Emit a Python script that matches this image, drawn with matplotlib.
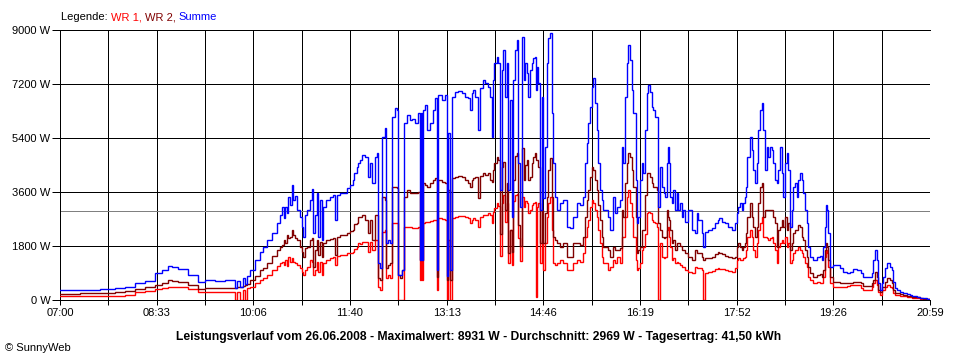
import matplotlib
matplotlib.use("Agg")
import matplotlib.pyplot as plt
import numpy as np
from matplotlib.offsetbox import AnchoredOffsetbox, HPacker, TextArea
from matplotlib.ticker import FixedLocator, NullFormatter

# minutes after 07:00, values in W
MINUTES = [
    0, 19, 39, 53, 63, 72, 82, 92, 98, 104, 108, 114, 123, 133, 140, 149, 159, 167, 169, 171,
    174, 176, 178, 180, 183, 188, 193, 196, 200, 204, 209, 212, 214, 216, 217, 219, 220, 222, 224, 225,
    227, 229, 231, 233, 234, 236, 238, 241, 243, 244, 246, 248, 249, 251, 253, 254, 257, 260, 263, 265,
    267, 270, 277, 280, 283, 284, 286, 287, 289, 291, 294, 297, 299, 301, 304, 306, 307, 309, 311, 313,
    314, 316, 318, 320, 323, 325, 326, 328, 330, 332, 335, 338, 339, 342, 345, 347, 348, 349, 350, 352,
    354, 357, 360, 362, 364, 365, 368, 371, 373, 374, 376, 378, 381, 384, 388, 391, 393, 395, 397, 398,
    400, 403, 405, 408, 410, 413, 415, 417, 418, 419, 421, 422, 424, 426, 427, 429, 431, 432, 434, 436,
    437, 439, 441, 442, 444, 446, 447, 448, 450, 451, 453, 455, 456, 458, 459, 460, 461, 463, 465, 466,
    468, 470, 471, 473, 474, 475, 477, 479, 482, 485, 489, 492, 495, 499, 501, 504, 506, 508, 509, 511,
    513, 514, 516, 518, 519, 521, 523, 524, 528, 530, 533, 535, 537, 540, 542, 543, 545, 547, 548, 550,
    552, 553, 555, 556, 557, 559, 561, 562, 564, 566, 567, 569, 571, 572, 574, 576, 577, 578, 579, 581,
    582, 583, 585, 586, 587, 588, 590, 591, 593, 595, 596, 598, 600, 601, 603, 606, 609, 612, 614, 615,
    619, 620, 622, 625, 629, 632, 635, 636, 638, 641, 644, 648, 651, 653, 654, 656, 658, 659, 661, 662,
    663, 665, 667, 668, 670, 672, 673, 675, 677, 678, 680, 682, 683, 685, 687, 688, 690, 691, 692, 694,
    696, 697, 699, 701, 702, 704, 706, 707, 709, 711, 712, 714, 716, 717, 718, 720, 721, 723, 726, 730,
    733, 735, 736, 738, 739, 740, 741, 743, 745, 749, 752, 755, 759, 762, 765, 769, 772, 774, 778, 781,
    783, 784, 786, 788, 789, 791, 793, 794, 796, 798, 800, 802, 803, 805, 807, 810, 813, 817, 820, 822,
    826, 829, 832, 836, 839,
]
WR1 = [
    120, 130, 130, 150, 170, 260, 300, 370, 400, 440, 430, 420, 370, 280, 270, 260, 260, 260, 0, 270,
    0, 330, 0, 400, 440, 570, 670, 720, 830, 1000, 1130, 1220, 1270, 1170, 1330, 1130, 1440, 1270, 1390, 1270,
    1230, 1170, 1070, 930, 830, 1000, 1110, 1330, 1270, 830, 1000, 1280, 930, 1270, 830, 1220, 1330, 1400, 1440, 1170,
    1470, 1500, 1560, 1580, 1610, 1700, 1780, 1890, 1870, 1940, 1930, 1610, 1930, 1670, 2000, 2000, 440, 330, 2280, 2330,
    730, 830, 730, 2560, 2580, 2570, 0, 0, 0, 2440, 2440, 2430, 2400, 2390, 2440, 670, 2500, 670, 2570, 2610,
    2600, 2630, 2670, 2670, 330, 2720, 2700, 2670, 0, 2000, 0, 2730, 2780, 2800, 2800, 2770, 2720, 2560, 2670, 2730,
    2670, 2440, 2780, 2830, 2830, 2890, 2830, 2570, 2940, 3070, 3220, 3130, 1470, 3220, 3500, 2600, 3220, 1230, 2330, 1180,
    3300, 3500, 3550, 2060, 1300, 3440, 3110, 3300, 3220, 2900, 3000, 3170, 3220, 3280, 100, 3100, 3220, 1220, 2000, 1000,
    1890, 2780, 3220, 3440, 2330, 1220, 1170, 1220, 1330, 1220, 1000, 1000, 1220, 1330, 1280, 1560, 2110, 2440, 2670, 3110,
    3330, 3220, 3000, 2780, 2330, 1890, 1440, 1220, 1000, 1110, 1330, 1220, 1440, 1220, 2110, 2110, 2780, 3440, 3670, 3220,
    2780, 2110, 1330, 1000, 1070, 1220, 1670, 1780, 2200, 2890, 2940, 2890, 2670, 2600, 2560, 2440, 0, 0, 1890, 1440,
    1390, 1440, 2330, 2440, 2110, 1780, 1330, 1400, 1220, 1270, 1220, 1170, 1110, 1100, 1000, 940, 890, 1110, 1070, 1060,
    1000, 0, 890, 940, 980, 1020, 1060, 1030, 1020, 1000, 980, 940, 1060, 1330, 1390, 1330, 1330, 1390, 1440, 1670,
    2110, 2330, 2110, 1670, 1440, 1890, 2330, 2560, 2780, 2110, 2110, 2070, 2000, 2070, 2110, 1890, 1670, 1220, 1780, 1890,
    2000, 1890, 2110, 1780, 1890, 1220, 1330, 1560, 1670, 1670, 1780, 1670, 1560, 1440, 1220, 1110, 780, 670, 560, 610,
    580, 560, 780, 1440, 1670, 1560, 1110, 560, 440, 430, 420, 420, 470, 500, 500, 500, 390, 330, 330, 330,
    430, 560, 670, 500, 280, 170, 330, 330, 440, 500, 440, 400, 220, 170, 170, 130, 130, 110, 110, 80,
    80, 40, 40, 20, 0,
]
WR2 = [
    210, 230, 240, 270, 300, 370, 420, 500, 570, 670, 650, 600, 500, 360, 400, 400, 410, 410, 410, 420,
    440, 470, 500, 530, 670, 800, 1000, 1070, 1220, 1470, 1670, 1780, 1830, 2000, 1900, 2170, 2070, 2100, 2330, 2170,
    2070, 2000, 1780, 1600, 1440, 1730, 1780, 2000, 2070, 1110, 1670, 2000, 1500, 1930, 1440, 1890, 2000, 2030, 2060, 1500,
    2110, 2170, 2220, 2310, 2330, 2530, 2560, 2780, 2760, 2830, 2670, 2220, 2670, 2000, 2830, 2830, 720, 670, 3440, 3330,
    1070, 1170, 1220, 3780, 3780, 3720, 830, 730, 1000, 3440, 3670, 3570, 3560, 3560, 3610, 1330, 3730, 1330, 3890, 3830,
    3780, 3900, 4000, 4060, 780, 4000, 3940, 3890, 670, 3670, 670, 4070, 4110, 4130, 4110, 4000, 3890, 3780, 4000, 4070,
    4110, 3390, 4130, 4220, 4170, 4220, 4000, 3940, 4330, 4560, 4780, 4670, 2200, 4440, 4600, 3000, 3890, 1570, 2330, 1600,
    4000, 4800, 4900, 2500, 1800, 5060, 4000, 4500, 4670, 4000, 4110, 4560, 4780, 4890, 4670, 4670, 4440, 1890, 3000, 1890,
    2890, 3440, 4330, 4720, 3440, 2110, 2000, 1890, 1780, 1890, 1440, 1440, 1890, 1890, 1830, 2110, 2780, 3330, 3670, 4110,
    4440, 4330, 4000, 3670, 3170, 2670, 2110, 1780, 1670, 1440, 1780, 1670, 1670, 1720, 3000, 2780, 3890, 4560, 4890, 4780,
    4330, 3780, 2780, 1560, 1670, 1780, 2330, 2330, 3500, 4220, 4220, 4110, 3890, 3780, 3780, 3670, 2560, 2560, 2330, 2110,
    2060, 2110, 3000, 2780, 2670, 2330, 1890, 2000, 1670, 1890, 1890, 1800, 1670, 1670, 1560, 1440, 1330, 1670, 1570, 1560,
    1440, 1330, 1390, 1390, 1440, 1530, 1610, 1580, 1530, 1470, 1440, 1390, 1440, 1780, 1890, 1780, 1670, 1780, 1890, 2220,
    2780, 3220, 2780, 2440, 2110, 2440, 3220, 3780, 3890, 2780, 3000, 3000, 3000, 3000, 3000, 2780, 2560, 1780, 2330, 2440,
    2670, 2440, 2780, 2330, 2560, 1670, 1890, 2220, 2330, 2330, 2500, 2440, 2110, 2000, 1670, 1440, 1110, 890, 780, 830,
    870, 780, 1000, 1670, 1890, 1780, 1330, 780, 610, 610, 580, 560, 570, 580, 590, 600, 560, 470, 470, 470,
    570, 670, 940, 780, 330, 280, 440, 440, 610, 720, 670, 570, 330, 230, 220, 200, 170, 130, 130, 110,
    110, 60, 50, 20, 0,
]
SUMME = [
    330, 350, 380, 390, 430, 560, 630, 890, 1000, 1140, 1100, 1030, 830, 610, 670, 640, 670, 670, 400, 630,
    430, 730, 530, 800, 1000, 1330, 1600, 1780, 2000, 2220, 2560, 2830, 3110, 2730, 3110, 2900, 3440, 3170, 3830, 3330,
    3470, 3000, 2780, 2440, 2110, 2830, 3000, 3330, 3690, 2220, 2830, 3560, 2110, 3330, 2000, 3110, 3330, 3440, 3500, 2670,
    3500, 3560, 3720, 3830, 4000, 4220, 4440, 4560, 4670, 4830, 4780, 4110, 4560, 3900, 4780, 4890, 1230, 1070, 5440, 5730,
    1900, 2000, 1900, 6110, 6390, 6330, 830, 830, 1000, 5890, 6170, 6000, 6020, 5890, 6220, 1330, 6230, 1330, 6330, 6500,
    5670, 5890, 6330, 6720, 1000, 6830, 6670, 6830, 800, 5560, 1000, 6780, 6940, 6980, 6890, 6780, 6720, 6330, 6890, 7000,
    6780, 5670, 7060, 7330, 7220, 7110, 6780, 5440, 7330, 7890, 8110, 7890, 3670, 7670, 8330, 6780, 7890, 3670, 6670, 2780,
    7330, 8330, 8670, 4560, 3110, 8780, 7330, 7890, 7560, 6780, 7670, 7890, 8060, 8110, 7000, 7780, 7220, 3000, 6780, 3400,
    5110, 7890, 8720, 8890, 6220, 4560, 3440, 3000, 3220, 3330, 2440, 2390, 2780, 3220, 3170, 3440, 4560, 5220, 5890, 6440,
    7110, 7390, 6560, 5670, 4560, 3670, 3330, 3000, 2780, 2330, 3440, 2890, 3110, 3330, 5110, 4560, 6780, 7890, 8500, 8000,
    7000, 6220, 4000, 2560, 2780, 4000, 4560, 4220, 5670, 6890, 7170, 6940, 6440, 6330, 6110, 6110, 3110, 3110, 4440, 3780,
    3560, 3440, 4560, 5110, 4560, 3440, 3220, 3670, 3000, 3560, 3000, 3220, 2780, 3000, 2610, 3000, 2330, 2220, 2890, 2670,
    2220, 1780, 2280, 2330, 2390, 2560, 2670, 2720, 2610, 2560, 2440, 2330, 2560, 2890, 3110, 3220, 3000, 3220, 3440, 3780,
    4780, 5440, 5000, 4330, 3890, 4560, 5670, 6330, 6560, 5670, 4330, 5110, 4780, 5110, 5000, 4560, 4000, 3890, 4330, 5110,
    4220, 3440, 4560, 4890, 4330, 2440, 3000, 3780, 3890, 3440, 4000, 4220, 4000, 3560, 3000, 2560, 1780, 1440, 1330, 1440,
    1470, 1330, 1780, 2440, 3170, 3000, 2220, 1110, 1170, 1170, 1060, 940, 890, 940, 1020, 1000, 890, 780, 760, 780,
    890, 1330, 1670, 1330, 560, 330, 560, 780, 1060, 1220, 1110, 1000, 610, 390, 330, 280, 240, 200, 170, 130,
    110, 80, 60, 20, 0,
]

TIME_LABELS = ["07:00", "08:33", "10:06", "11:40", "13:13", "14:46", "16:19", "17:52", "19:26", "20:59"]
Y_TICKS = [0, 1800, 3600, 5400, 7200, 9000]
AVERAGE_W = 2969
TITLE = ("Leistungsverlauf vom 26.06.2008 - Maximalwert: 8931 W - "
         "Durchschnitt: 2969 W - Tagesertrag: 41,50 kWh")

RED = "#ff0000"
DARK_RED = "#800000"
BLUE = "#0000ff"
FONT = "Liberation Sans"
PX = 0.72  # one pixel at 100 dpi, in points


def main() -> None:
    plt.rcParams["font.family"] = [FONT, "DejaVu Sans"]
    fig = plt.figure(figsize=(9.6, 3.6), dpi=100)
    ax = fig.add_axes([60 / 960, 60 / 360, 870 / 960, 270 / 360])

    t = np.array(MINUTES)
    total = MINUTES[-1]
    for values, color, z in [(WR1, RED, 3), (WR2, DARK_RED, 4), (SUMME, BLUE, 5)]:
        ax.plot(t, values, color=color, linewidth=1.0, drawstyle="steps-post",
                solid_joinstyle="miter", zorder=z)
    ax.axhline(AVERAGE_W, color="#808080", linewidth=PX, zorder=2)

    ax.set_xlim(0, total)
    ax.set_ylim(0, 9000)

    major = np.linspace(0, total, len(TIME_LABELS))
    minor = (major[:-1] + major[1:]) / 2
    ax.xaxis.set_major_locator(FixedLocator(major))
    ax.xaxis.set_minor_locator(FixedLocator(minor))
    ax.xaxis.set_minor_formatter(NullFormatter())
    ax.set_xticklabels(TIME_LABELS)
    ax.set_yticks(Y_TICKS)
    ax.set_yticklabels([f"{v} W" for v in Y_TICKS])

    ax.tick_params(axis="x", which="both", direction="out", length=3.8, width=PX,
                   color="black", labelsize=8, pad=2)
    ax.tick_params(axis="y", which="major", direction="out", length=6, width=PX,
                   color="black", labelsize=8, pad=1)

    ax.grid(True, axis="x", which="both", color="black", linewidth=PX)
    ax.grid(True, axis="y", which="major", color="black", linewidth=PX)
    ax.xaxis.get_major_ticks()[-1].gridline.set_visible(False)
    ax.set_axisbelow(True)

    for side in ["left", "bottom", "top"]:
        ax.spines[side].set_color("black")
        ax.spines[side].set_linewidth(PX)
    ax.spines["right"].set_visible(False)

    parts = [("Legende: ", "black"), ("WR 1, ", RED), ("WR 2, ", DARK_RED), ("Summe", BLUE)]
    boxes = [TextArea(s, textprops=dict(color=c, fontsize=8)) for s, c in parts]
    pack = HPacker(children=boxes, align="baseline", pad=0, sep=0)
    legend = AnchoredOffsetbox(loc="lower left", child=pack, pad=0, borderpad=0, frameon=False,
                               bbox_to_anchor=(61 / 960, 1 - 22 / 360),
                               bbox_transform=fig.transFigure)
    fig.add_artist(legend)

    fig.text(479 / 960, 1 - 337 / 360, TITLE, ha="center", va="center",
             fontsize=8.7, fontweight="bold")
    fig.text(5 / 960, 1 - 348 / 360, "\u00a9 SunnyWeb", ha="left", va="center", fontsize=8)

    fig.savefig("out.png", dpi=100, facecolor="white")


if __name__ == "__main__":
    main()
